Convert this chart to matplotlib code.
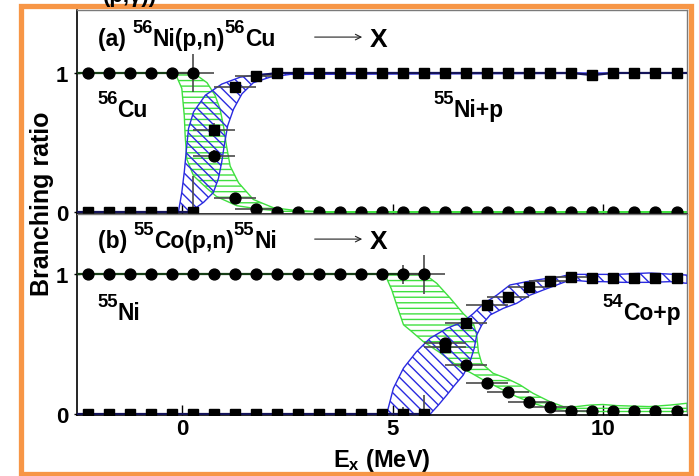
import numpy as np
import matplotlib
matplotlib.use("Agg")
import matplotlib.pyplot as plt
from matplotlib.patches import Rectangle

plt.rcParams['font.family'] = ['Liberation Sans', 'DejaVu Sans']
plt.rcParams['font.weight'] = 'bold'
plt.rcParams['mathtext.fontset'] = 'custom'
plt.rcParams['mathtext.rm'] = 'Liberation Sans:bold'
plt.rcParams['mathtext.it'] = 'Liberation Sans:italic:bold'
plt.rcParams['mathtext.bf'] = 'Liberation Sans:bold'
plt.rcParams['hatch.linewidth'] = 1.0

# ---------------- data ----------------
ex = np.arange(-2.25, 12.0, 0.5)   # excitation energies of data points (MeV)

# panel (a): 56Ni(p,n)56Cu -> X
a_cu56 = [1, 1, 1, 1, 1, 1, 0.405, 0.10, 0.02, 0, 0, 0, 0, 0, 0, 0, 0, 0, 0, 0,
          0, 0, 0, 0, 0, 0, 0, 0, 0]
a_ni55p = [0, 0, 0, 0, 0, 0, 0.59, 0.90, 0.98, 1, 1, 1, 1, 1, 1, 1, 1, 1, 1, 1,
           1, 1, 1, 1, 0.985, 1, 1, 1, 1]
a_cu56_xerr = [0, 0, 0, 0, 0, 0.5, 0.5, 0.5, 0.5] + [0] * 20
a_cu56_yerr = [0, 0, 0, 0, 0, 0.14, 0.04, 0.02, 0] + [0] * 20
a_ni55p_xerr = [0, 0, 0, 0, 0, 0, 0.5, 0.5, 0.5] + [0] * 20
a_ni55p_yerr = [0, 0, 0, 0, 0, 0.26, 0.05, 0.02, 0] + [0] * 20

# panel (b): 55Co(p,n)55Ni -> X
b_ni55 = [1] * 17 + [0.51, 0.35, 0.226, 0.16, 0.09, 0.05, 0.024, 0.02, 0.02, 0.02, 0.02, 0.02]
b_co54p = [0] * 17 + [0.48, 0.655, 0.78, 0.836, 0.91, 0.95, 0.98, 0.976, 0.976, 0.976, 0.976, 0.976]
b_ni55_xerr = [0] * 16 + [0.5, 0.5, 0.5, 0.5, 0.5, 0.5, 0.5, 0.5] + [0] * 5
b_ni55_yerr = [0] * 15 + [0.07, 0.14, 0.03, 0.03, 0.03, 0.03, 0.03, 0.02, 0.02] + [0] * 5
b_co54p_xerr = [0] * 17 + [0.5, 0.5, 0.5, 0.5, 0.5, 0.5, 0.5] + [0] * 5
b_co54p_yerr = [0] * 15 + [0.05, 0.14, 0.03, 0.03, 0.03, 0.03, 0.03, 0.02, 0.02] + [0] * 5

# theoretical bands (edges)
ga_lo_x = [-0.17, -0.01, 0.05, 0.07, 0.11, 0.27, 0.59, 0.82, 1.3, 1.85, 2.4, 3.5, 12.0]
ga_lo_y = [1.0, 0.89, 0.69, 0.55, 0.38, 0.26, 0.17, 0.11, 0.045, 0.02, 0.005, 0.0, 0.0]
ga_hi_x = [0.27, 0.59, 0.78, 0.9, 0.98, 1.05, 1.14, 1.34, 1.69, 2.17, 2.72, 3.5, 12.0]
ga_hi_y = [1.0, 0.93, 0.84, 0.74, 0.62, 0.48, 0.33, 0.21, 0.09, 0.03, 0.01, 0.0, 0.0]

ba_up_x = [-0.09, -0.01, 0.05, 0.1, 0.15, 0.27, 0.55, 0.94, 1.38, 1.85, 2.57, 12.0]
ba_up_y = [0.0, 0.14, 0.29, 0.45, 0.6, 0.72, 0.84, 0.92, 0.97, 0.99, 1.0, 1.0]
ba_lo_x = [0.19, 0.51, 0.74, 0.86, 0.94, 1.0, 1.08, 1.22, 1.42, 1.69, 2.09, 2.57, 12.0]
ba_lo_y = [0.0, 0.07, 0.14, 0.24, 0.36, 0.48, 0.62, 0.74, 0.85, 0.93, 0.97, 0.99, 1.0]

gb_lo_x = [4.82, 4.98, 5.10, 5.26, 5.46, 5.73, 6.13, 6.52, 6.84, 7.16, 7.55, 7.95, 8.34,
           8.74, 9.14, 9.53, 12.0]
gb_lo_y = [1.0, 0.89, 0.78, 0.64, 0.59, 0.52, 0.44, 0.35, 0.30, 0.245, 0.186, 0.126, 0.079,
           0.043, 0.024, 0.02, 0.02]
gb_hi_x = [5.77, 6.05, 6.37, 6.68, 6.92, 7.0, 7.04, 7.12, 7.39, 7.71, 8.03, 8.34, 8.74,
           9.06, 9.37, 9.69, 10.0, 10.33, 11.1, 11.6, 12.0]
gb_hi_y = [1.0, 0.936, 0.83, 0.72, 0.65, 0.566, 0.448, 0.364, 0.293, 0.257, 0.21, 0.15, 0.09,
           0.055, 0.055, 0.066, 0.07, 0.062, 0.055, 0.066, 0.079]

bb_up_x = [4.86, 5.02, 5.26, 5.57, 5.89, 6.29, 6.68, 6.92, 7.16, 7.48, 7.79, 8.19, 8.58,
           8.9, 9.22, 9.69, 10.33, 11.1, 12.0]
bb_up_y = [0.0, 0.186, 0.33, 0.448, 0.543, 0.614, 0.662, 0.72, 0.79, 0.852, 0.924, 0.948,
           0.967, 0.976, 1.0, 1.0, 1.0, 1.01, 0.995]
bb_lo_x = [5.89, 6.09, 6.29, 6.48, 6.68, 6.84, 6.94, 7.0, 7.12, 7.32, 7.63, 7.95, 8.27,
           8.58, 8.9, 9.22, 9.69, 10.0, 10.48, 11.1, 11.6, 12.0]
bb_lo_y = [0.0, 0.066, 0.138, 0.21, 0.28, 0.376, 0.47, 0.566, 0.638, 0.71, 0.757, 0.793,
           0.852, 0.888, 0.924, 0.96, 0.948, 0.948, 0.943, 0.943, 0.948, 0.936]

xticks = [0, 5, 10]
yticks = [0, 1]
XMIN, XMAX = -2.5, 12.0

# ---------------- styles ----------------
GREEN = '#3fe03f'
BLUE = '#2a2ae0'
DKGREEN = '#173f17'
NAVY = '#14145a'
ERRC = '#4a4a4a'
FS = 16
TFS = 16.5

fig = plt.figure(figsize=(6.99, 4.77), dpi=100)
ax1 = fig.add_axes([0.1102, 0.5503, 0.8727, 0.4266])
ax2 = fig.add_axes([0.1102, 0.1279, 0.8727, 0.4224])


def band(ax, lx, ly, ux, uy, color, hatch):
    px = np.r_[lx, ux[::-1]]
    py = np.r_[ly, uy[::-1]]
    ax.fill(px, py, facecolor='none', edgecolor=color, hatch=hatch, lw=1.0, zorder=2)


def flat_line(ax, y, mask, color, left=True):
    xs = ex[mask]
    ys = np.asarray(y)[mask]
    if left:
        xs = np.r_[XMIN, xs]
        ys = np.r_[ys[0], ys]
    else:
        xs = np.r_[xs, XMAX]
        ys = np.r_[ys, ys[-1]]
    ax.plot(xs, ys, color=color, lw=1.6, zorder=3)


def errs(ax, y, xe, ye):
    y = np.asarray(y, float)
    xe = np.asarray(xe, float)
    ye = np.asarray(ye, float)
    m = xe > 0
    if m.any():
        ax.errorbar(ex[m], y[m], xerr=xe[m], fmt='none', ecolor=ERRC, elinewidth=1.2,
                    capsize=0, zorder=3)
    m = ye > 0
    if m.any():
        ax.errorbar(ex[m], y[m], yerr=ye[m], fmt='none', ecolor=ERRC, elinewidth=1.2,
                    capsize=0, zorder=3)


def rich(ax, x, y, parts, fs=TFS, sup=0.8, rise=0.56):
    """Draw text pieces one after another; kind 's' is a superscript."""
    prev = None
    for txt, kind in parts:
        size = fs * sup if kind == 's' else fs
        dy = rise * fs if kind == 's' else 0
        if prev is None:
            prev = ax.annotate(txt, xy=(x, y), xycoords='axes fraction',
                               xytext=(0, dy), textcoords='offset points',
                               fontsize=size, va='baseline', ha='left')
        else:
            prev = ax.annotate(txt, xy=(1, y), xycoords=(prev, 'axes fraction'),
                               xytext=(0, dy), textcoords='offset points',
                               fontsize=size, va='baseline', ha='left')
    return prev


# panel (a)
band(ax1, ga_lo_x, ga_lo_y, ga_hi_x, ga_hi_y, GREEN, '---')
band(ax1, ba_up_x, ba_up_y, ba_lo_x, ba_lo_y, BLUE, '\\\\\\')
flat_line(ax1, a_cu56, ex <= 0.3, DKGREEN, left=True)
flat_line(ax1, a_ni55p, ex <= 0.3, NAVY, left=True)
flat_line(ax1, a_ni55p, ex >= 1.7, NAVY, left=False)
errs(ax1, a_cu56, a_cu56_xerr, a_cu56_yerr)
errs(ax1, a_ni55p, a_ni55p_xerr, a_ni55p_yerr)
ax1.plot(ex, a_ni55p, 's', color='black', ms=7.8, zorder=4)
ax1.plot(ex, a_cu56, 'o', color='black', ms=7.8, zorder=4)

# panel (b)
band(ax2, gb_lo_x, gb_lo_y, gb_hi_x, gb_hi_y, GREEN, '---')
band(ax2, bb_up_x, bb_up_y, bb_lo_x, bb_lo_y, BLUE, '\\\\\\')
flat_line(ax2, b_ni55, ex <= 5.8, DKGREEN, left=True)
flat_line(ax2, b_co54p, ex <= 5.8, NAVY, left=True)
errs(ax2, b_ni55, b_ni55_xerr, b_ni55_yerr)
errs(ax2, b_co54p, b_co54p_xerr, b_co54p_yerr)
ax2.plot(ex, b_co54p, 's', color='black', ms=7.8, zorder=4)
ax2.plot(ex, b_ni55, 'o', color='black', ms=7.8, zorder=4)

ax1.set_ylim(-0.011, 1.453)
ax2.set_ylim(-0.005, 1.435)

for ax in (ax1, ax2):
    ax.set_xlim(XMIN, XMAX)
    ax.set_xticks(xticks)
    ax.set_yticks(yticks)
    ax.tick_params(axis='x', direction='in', length=7, width=1, pad=2, labelsize=FS,
                   top=False)
    ax.tick_params(axis='y', direction='inout', length=5, width=1, pad=4, labelsize=FS,
                   right=False)
    for s in ('left', 'bottom'):
        ax.spines[s].set_linewidth(1.2)
        ax.spines[s].set_color('black')
    for s in ('top', 'right'):
        ax.spines[s].set_linewidth(1.0)
        ax.spines[s].set_color('#7a7a7a')
ax1.tick_params(axis='x', labelbottom=False)

# panel texts
rich(ax1, 0.034, 0.828, [('(a) ', 'n'), ('56', 's'), ('Ni(p,n)', 'n'), ('56', 's'), ('Cu', 'n')])
ax1.annotate('', xy=(0.472, 0.867), xytext=(0.385, 0.867), xycoords='axes fraction',
             arrowprops=dict(arrowstyle='->', lw=0.8, color='#222222'))
ax1.text(0.48, 0.823, 'X', transform=ax1.transAxes, fontsize=19, va='baseline')
rich(ax1, 0.033, 0.479, [('56', 's'), ('Cu', 'n')])
rich(ax1, 0.584, 0.479, [('55', 's'), ('Ni+p', 'n')])

rich(ax2, 0.034, 0.834, [('(b) ', 'n'), ('55', 's'), ('Co(p,n)', 'n'), ('55', 's'), ('Ni', 'n')])
ax2.annotate('', xy=(0.472, 0.873), xytext=(0.385, 0.873), xycoords='axes fraction',
             arrowprops=dict(arrowstyle='->', lw=0.8, color='#222222'))
ax2.text(0.48, 0.829, 'X', transform=ax2.transAxes, fontsize=19, va='baseline')
rich(ax2, 0.033, 0.476, [('55', 's'), ('Ni', 'n')])
rich(ax2, 0.862, 0.476, [('54', 's'), ('Co+p', 'n')])

# axis labels
fig.text(0.060, 0.572, 'Branching ratio', rotation=90, ha='center', va='center',
         fontsize=18, fontweight='bold')
fig.text(0.5465, 1 - 467 / 477, r'E$_\mathbf{x}$ (MeV)', ha='center', va='baseline',
         fontsize=17, fontweight='bold')

# cropped text at the very top and orange frame
fig.text(103 / 699, 1 - 2 / 477, '(p,γ))', fontsize=FS, fontweight='bold',
         va='baseline', zorder=10)
fig.patches.append(Rectangle((20.5 / 699, 2 / 477), 670 / 699, 468 / 477,
                             transform=fig.transFigure, fill=False,
                             edgecolor='#F79646', lw=3.8, zorder=5))

fig.savefig('out.png', dpi=100)
